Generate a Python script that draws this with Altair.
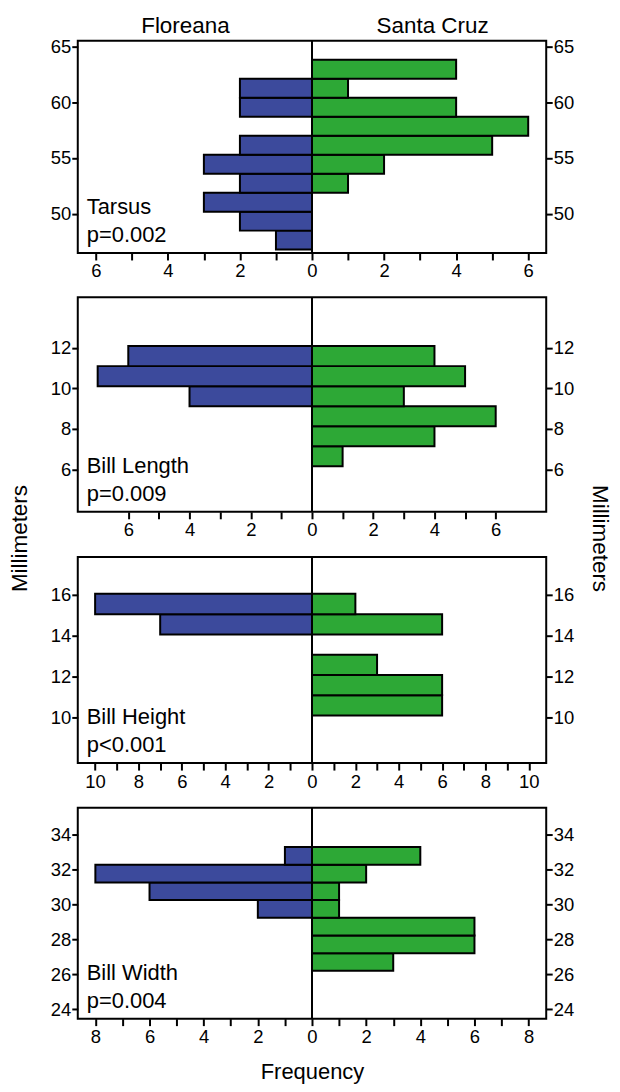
import altair as alt
import pandas as pd

FONT = "Liberation Sans"
BLUE = "#3C4A9C"
GREEN = "#2DA836"

# ---- data (bin edges in mm, counts per bin, bottom to top) ----
tarsus_edges = [46.8, 48.5, 50.2, 51.9, 53.6, 55.3, 57.0, 58.7, 60.4, 62.1, 63.8]
tarsus_flo = [1, 2, 3, 2, 3, 2, 0, 2, 2, 0]
tarsus_sc = [0, 0, 0, 1, 2, 5, 6, 4, 1, 4]

length_edges = [6.15, 7.14, 8.13, 9.12, 10.11, 11.10, 12.09]
length_flo = [0, 0, 0, 4, 7, 6]
length_sc = [1, 4, 6, 3, 5, 4]

height_edges = [10.1, 11.09, 12.08, 13.07, 14.06, 15.05, 16.04]
height_flo = [0, 0, 0, 0, 7, 10]
height_sc = [6, 6, 3, 0, 6, 2]

width_edges = [26.2, 27.21, 28.22, 29.23, 30.24, 31.25, 32.26, 33.27]
width_flo = [0, 0, 0, 2, 6, 8, 1]
width_sc = [3, 6, 6, 1, 1, 2, 4]

panel_names = ["Tarsus", "Bill Length", "Bill Height", "Bill Width"]
panel_pvals = ["p=0.002", "p=0.009", "p<0.001", "p=0.004"]
y_ticks = [[50, 55, 60, 65], [6, 8, 10, 12], [10, 12, 14, 16], [24, 26, 28, 30, 32, 34]]
y_domains = [[46.5, 65.5], [3.9, 14.5], [7.78, 17.84], [23.47, 35.52]]
x_max_tick = [6, 6, 10, 8]
x_domains = [[-6.5, 6.5], [-7.65, 7.65], [-10.8, 10.8], [-8.65, 8.65]]
groups = ["Floreana", "Santa Cruz"]

W = 470
HEIGHTS = [213, 215.2, 206.8, 211.7]


def make_panel(idx, edges, flo, sc):
    h = HEIGHTS[idx]
    last = idx == 3
    rows_f, rows_s = [], []
    for i in range(len(flo)):
        lo, hi = edges[i], edges[i + 1]
        if flo[i]:
            rows_f.append(dict(lo=lo, hi=hi, x=-flo[i], x2=0))
        if sc[i]:
            rows_s.append(dict(lo=lo, hi=hi, x=0, x2=sc[i]))
    df_f = pd.DataFrame(rows_f)
    df_s = pd.DataFrame(rows_s)

    m = x_max_tick[idx]
    xscale = alt.Scale(domain=x_domains[idx], nice=False, zero=False)
    xaxis = alt.Axis(
        values=list(range(-m, m + 1)),
        labelExpr="datum.value % 2 == 0 ? abs(datum.value) : ''",
        title="Frequency" if last else None,
        titleFontSize=22,
        titleFont=FONT,
        titleFontWeight="normal",
        titlePadding=16,
        orient="bottom",
        tickSize=7,
        labelPadding=2,
    )
    yscale = alt.Scale(domain=y_domains[idx], nice=False, zero=False)

    left = alt.Chart(df_f).mark_rect(fill=BLUE, stroke="black", strokeWidth=2).encode(
        x=alt.X("x:Q", scale=xscale, axis=xaxis),
        x2="x2:Q",
        y=alt.Y("lo:Q", scale=yscale,
                axis=alt.Axis(values=y_ticks[idx], orient="left", title=None, labelPadding=1)),
        y2="hi:Q",
    )
    right = alt.Chart(df_s).mark_rect(fill=GREEN, stroke="black", strokeWidth=2).encode(
        x=alt.X("x:Q", scale=xscale, axis=xaxis),
        x2="x2:Q",
        y=alt.Y("lo:Q", scale=yscale,
                axis=alt.Axis(values=y_ticks[idx], orient="right", title=None, labelPadding=1)),
        y2="hi:Q",
    )
    zero = alt.Chart(pd.DataFrame({"z": [0]})).mark_rule(color="black", strokeWidth=2).encode(
        x=alt.X("z:Q", scale=xscale, axis=xaxis)
    )
    name = alt.Chart(pd.DataFrame({"t": [panel_names[idx]]})).mark_text(
        align="left", baseline="alphabetic", font=FONT, fontSize=22, color="black"
    ).encode(text="t:N", x=alt.value(9), y=alt.value(h - 39))
    pv = alt.Chart(pd.DataFrame({"t": [panel_pvals[idx]]})).mark_text(
        align="left", baseline="alphabetic", font=FONT, fontSize=22, color="black"
    ).encode(text="t:N", x=alt.value(9), y=alt.value(h - 11))

    layers = [left, right, zero, name, pv]
    if idx == 0:
        for g, xp in zip(groups, [108, 356]):
            layers.append(
                alt.Chart(pd.DataFrame({"t": [g]})).mark_text(
                    align="center", baseline="alphabetic", font=FONT, fontSize=22.5, color="black"
                ).encode(text="t:N", x=alt.value(xp), y=alt.value(-8))
            )
    if idx == 1:
        layers.append(
            alt.Chart(pd.DataFrame({"t": ["Millimeters"]})).mark_text(
                align="center", baseline="middle", font=FONT, fontSize=22.5, color="black", angle=270
            ).encode(text="t:N", x=alt.value(-58), y=alt.value(242))
        )
        layers.append(
            alt.Chart(pd.DataFrame({"t": ["Millimeters"]})).mark_text(
                align="center", baseline="middle", font=FONT, fontSize=22.5, color="black", angle=90
            ).encode(text="t:N", x=alt.value(524), y=alt.value(242))
        )
    return alt.layer(*layers).resolve_axis(y="independent").properties(width=W, height=h)


p1 = make_panel(0, tarsus_edges, tarsus_flo, tarsus_sc)
p2 = make_panel(1, length_edges, length_flo, length_sc)
p3 = make_panel(2, height_edges, height_flo, height_sc)
p4 = make_panel(3, width_edges, width_flo, width_sc)

chart = (
    alt.vconcat(p1, p2, p3, p4, spacing=44.5, bounds="flush")
    .properties(padding={"left": 0, "top": 4, "right": 0, "bottom": 0})
    .configure_view(stroke="black", strokeWidth=2)
    .configure_axis(
        domain=False,
        grid=False,
        labelFont=FONT,
        labelFontSize=18.5,
        labelColor="black",
        tickColor="black",
        tickWidth=2,
        tickSize=6,
    )
)

chart.save("out.html", embed_options={"renderer": "svg", "actions": False})
